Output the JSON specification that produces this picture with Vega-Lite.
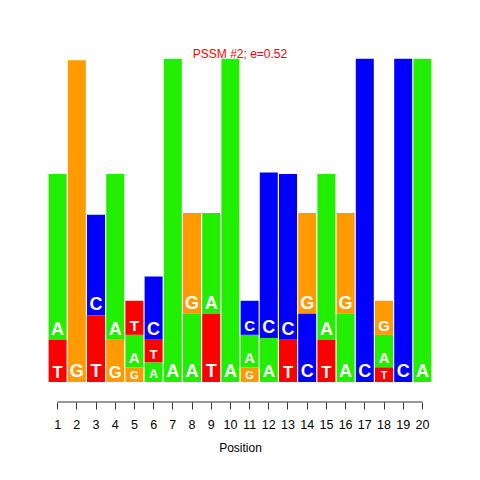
{
  "$schema": "https://vega.github.io/schema/vega-lite/v6.json",
  "width": 384,
  "height": 325,
  "autosize": {"type": "none"},
  "padding": {"left": 48, "top": 57, "right": 48, "bottom": 98},
  "background": "white",
  "title": {"text": "PSSM #2; e=0.52", "color": "#ff0000", "fontSize": 12, "fontWeight": "normal", "font": "Liberation Sans", "offset": -4},
  "config": {"view": {"stroke": null}},
  "data": {"values": [
    {"pos": 1, "base": "A", "bits": 1.02}, {"pos": 1, "base": "T", "bits": 0.26},
    {"pos": 2, "base": "G", "bits": 1.98},
    {"pos": 3, "base": "C", "bits": 0.62}, {"pos": 3, "base": "T", "bits": 0.41},
    {"pos": 4, "base": "A", "bits": 1.02}, {"pos": 4, "base": "G", "bits": 0.26},
    {"pos": 5, "base": "T", "bits": 0.21}, {"pos": 5, "base": "A", "bits": 0.2}, {"pos": 5, "base": "G", "bits": 0.09},
    {"pos": 6, "base": "C", "bits": 0.39}, {"pos": 6, "base": "T", "bits": 0.14}, {"pos": 6, "base": "A", "bits": 0.12},
    {"pos": 7, "base": "A", "bits": 1.99},
    {"pos": 8, "base": "G", "bits": 0.62}, {"pos": 8, "base": "A", "bits": 0.42},
    {"pos": 9, "base": "A", "bits": 0.62}, {"pos": 9, "base": "T", "bits": 0.42},
    {"pos": 10, "base": "A", "bits": 1.99},
    {"pos": 11, "base": "C", "bits": 0.21}, {"pos": 11, "base": "A", "bits": 0.2}, {"pos": 11, "base": "G", "bits": 0.09},
    {"pos": 12, "base": "C", "bits": 1.02}, {"pos": 12, "base": "A", "bits": 0.27},
    {"pos": 13, "base": "C", "bits": 1.02}, {"pos": 13, "base": "T", "bits": 0.26},
    {"pos": 14, "base": "G", "bits": 0.62}, {"pos": 14, "base": "C", "bits": 0.42},
    {"pos": 15, "base": "A", "bits": 1.02}, {"pos": 15, "base": "T", "bits": 0.26},
    {"pos": 16, "base": "G", "bits": 0.62}, {"pos": 16, "base": "A", "bits": 0.42},
    {"pos": 17, "base": "C", "bits": 1.99},
    {"pos": 18, "base": "G", "bits": 0.21}, {"pos": 18, "base": "A", "bits": 0.2}, {"pos": 18, "base": "T", "bits": 0.09},
    {"pos": 19, "base": "C", "bits": 1.99},
    {"pos": 20, "base": "A", "bits": 1.99}
  ]},
  "transform": [
    {"stack": "bits", "groupby": ["pos"], "sort": [{"field": "bits", "order": "ascending"}], "as": ["y0", "y1"]}
  ],
  "layer": [
    {
      "mark": {"type": "bar", "width": 18},
      "encoding": {
        "x": {"field": "pos", "type": "ordinal",
              "scale": {"domain": [1,2,3,4,5,6,7,8,9,10,11,12,13,14,15,16,17,18,19,20], "paddingInner": 0, "paddingOuter": 0},
              "axis": {"title": "Position", "titleFont": "Liberation Sans", "titleFontSize": 12, "titleFontWeight": "normal", "titleColor": "black",
                       "labelAngle": 0, "labelFont": "Liberation Sans", "labelFontSize": 12.5, "labelColor": "black",
                       "domain": false, "offset": 20, "tickSize": 7, "tickColor": "#333333", "labelPadding": 9, "titlePadding": 12, "grid": false}},
        "y": {"field": "y0", "type": "quantitative", "scale": {"domain": [0, 2]}, "axis": null},
        "y2": {"field": "y1"},
        "color": {"field": "base", "type": "nominal", "scale": {"domain": ["A", "C", "G", "T"], "range": ["#22ee00", "#0000ff", "#ff9a00", "#ff0000"]}, "legend": null}
      }
    },
    {
      "mark": {"type": "text", "color": "white", "baseline": "bottom", "dy": -1, "fontWeight": "bold", "font": "Liberation Sans"},
      "encoding": {
        "x": {"field": "pos", "type": "ordinal"},
        "y": {"field": "y0", "type": "quantitative"},
        "text": {"field": "base"},
        "size": {"field": "bits", "type": "quantitative", "scale": {"domain": [0.09, 0.3], "range": [11, 18], "clamp": true}, "legend": null}
      }
    },
    {
      "data": {"values": [{"a": 1, "b": 20, "y": -0.123}]},
      "mark": {"type": "rule", "color": "#333333", "clip": false},
      "encoding": {
        "x": {"field": "a", "type": "ordinal"},
        "x2": {"field": "b"},
        "y": {"field": "y", "type": "quantitative"}
      }
    }
  ]
}
